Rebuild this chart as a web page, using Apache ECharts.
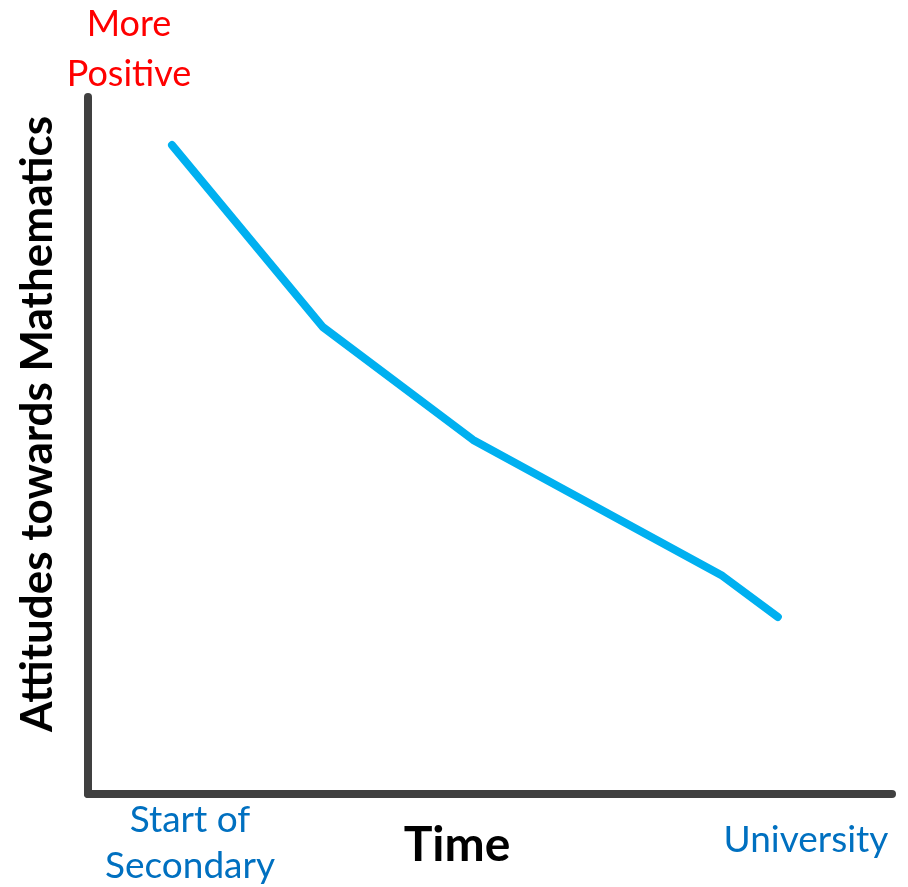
<!DOCTYPE html>
<html>
<head>
<meta charset="utf-8">
<script src="https://cdn.jsdelivr.net/npm/echarts@6/dist/echarts.min.js"></script>
<style>
html,body{margin:0;padding:0;background:#fff;}
#c{width:908px;height:887px;}
</style>
</head>
<body>
<div id="c"></div>
<script>
// Data (conceptual scale 0-100)
const timeValues = [10.45, 29.2, 47.9, 78.9, 85.8];
const attitudeValues = [93.1, 67.0, 50.8, 31.3, 25.4];
const yTopLabel = ['More', 'Positive'];
const xStartLabel = ['Start of', 'Secondary'];
const xEndLabel = 'University';
const xAxisTitle = 'Time';
const yAxisTitle = 'Attitudes towards Mathematics';

const chart = echarts.init(document.getElementById('c'), null, {renderer: 'canvas'});
const FONT = 'Lato, "Open Sans", sans-serif';
const axisLineStyle = {color: '#404040', width: 8, cap: 'round'};

function txt(text, x, y, size, color, weight, rotation) {
  return {
    type: 'text', x: x, y: y, rotation: rotation || 0,
    style: {text: text, fill: color, font: (weight || 'normal') + ' ' + size + 'px ' + FONT,
      align: 'center', verticalAlign: 'middle'}
  };
}

chart.setOption({
  animation: false,
  backgroundColor: '#ffffff',
  grid: {left: 88, right: 16, top: 97, bottom: 93, containLabel: false, outerBoundsMode: 'none'},
  xAxis: {type: 'value', min: 0, max: 100,
    axisLine: {show: true, lineStyle: axisLineStyle},
    axisTick: {show: false}, axisLabel: {show: false}, splitLine: {show: false}},
  yAxis: {type: 'value', min: 0, max: 100,
    axisLine: {show: true, lineStyle: axisLineStyle},
    axisTick: {show: false}, axisLabel: {show: false}, splitLine: {show: false}},
  series: [{
    type: 'line',
    data: timeValues.map((t, i) => [t, attitudeValues[i]]),
    symbol: 'none',
    smooth: false,
    lineStyle: {color: '#00b0f0', width: 8, cap: 'round', join: 'round'}
  }],
  graphic: [
    txt(yTopLabel[0], 129, 24, 36, '#ff0000'),
    txt(yTopLabel[1], 129, 74, 36, '#ff0000'),
    txt(xStartLabel[0], 190, 820, 37, '#0070c0'),
    txt(xStartLabel[1], 190, 866, 37, '#0070c0'),
    txt(xEndLabel, 806, 840, 37, '#0070c0'),
    txt(xAxisTitle, 457, 846, 48, '#000000', 'bold'),
    txt(yAxisTitle, 38, 424, 44, '#000000', 'bold', Math.PI / 2)
  ]
});
</script>
</body>
</html>
